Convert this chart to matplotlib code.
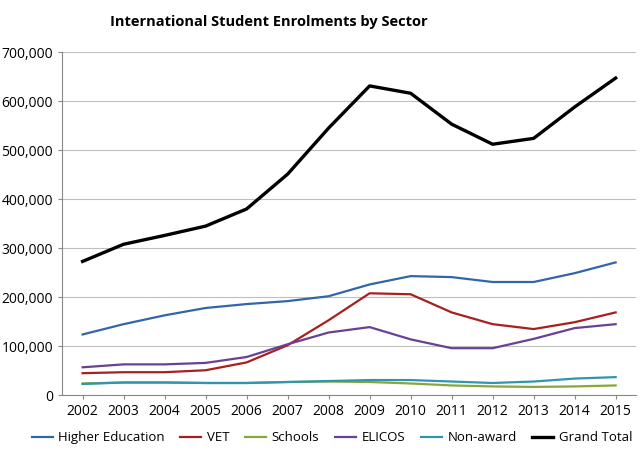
import matplotlib
matplotlib.use("Agg")
import matplotlib.pyplot as plt
from matplotlib.ticker import FuncFormatter

years = list(range(2002, 2016))
higher_ed = [124000, 145000, 163000, 178000, 186000, 192000, 202000, 226000, 243000, 241000, 231000, 231000, 249000, 271000]
vet = [45000, 47000, 47000, 51000, 67000, 102000, 153000, 208000, 206000, 169000, 145000, 135000, 149000, 169000]
schools = [24000, 26000, 26000, 25000, 25000, 27000, 28000, 27000, 24000, 20000, 18000, 17000, 18000, 20000]
elicos = [57000, 63000, 63000, 66000, 78000, 104000, 128000, 139000, 114000, 96000, 96000, 115000, 137000, 145000]
non_award = [23000, 26000, 26000, 25000, 25000, 27000, 29000, 31000, 31000, 28000, 25000, 28000, 34000, 37000]
grand_total = [273000, 308000, 326000, 345000, 380000, 451000, 545000, 631000, 616000, 553000, 512000, 524000, 588000, 647000]

plt.rcParams['font.family'] = ['Open Sans', 'DejaVu Sans']

fig = plt.figure(figsize=(6.4, 4.65), dpi=100)
ax = fig.add_axes([0.097, 0.150, 0.897, 0.738])

ax.plot(years, higher_ed, color='#3465a8', lw=1.6, label='Higher Education')
ax.plot(years, vet, color='#a8201e', lw=1.6, label='VET')
ax.plot(years, schools, color='#86a83a', lw=1.6, label='Schools')
ax.plot(years, elicos, color='#6a4190', lw=1.6, label='ELICOS')
ax.plot(years, non_award, color='#2f95b0', lw=1.6, label='Non-award')
ax.plot(years, grand_total, color='black', lw=2.4, label='Grand Total')

ax.set_ylim(0, 700000)
ax.set_yticks(range(0, 700001, 100000))
ax.yaxis.set_major_formatter(FuncFormatter(lambda v, p: f"{int(v):,}"))
ax.set_xlim(2001.5, 2015.5)
ax.set_xticks(years)
ax.grid(axis='y', color='#bfbfbf', lw=0.8)
ax.set_axisbelow(True)
for s in ['top', 'right']:
    ax.spines[s].set_visible(False)
ax.spines['left'].set_color('#888888')
ax.spines['bottom'].set_color('#888888')
ax.tick_params(labelsize=10, length=3, color='#888888')

fig.text(0.42, 0.945, 'International Student Enrolments by Sector', ha='center',
         fontsize=10.5, fontweight='bold')
ax.legend(loc='upper center', bbox_to_anchor=(0.47, -0.07), ncol=6, frameon=False,
          fontsize=9.5, handlelength=1.6, columnspacing=1.2, handletextpad=0.4)

fig.savefig('out.png')
